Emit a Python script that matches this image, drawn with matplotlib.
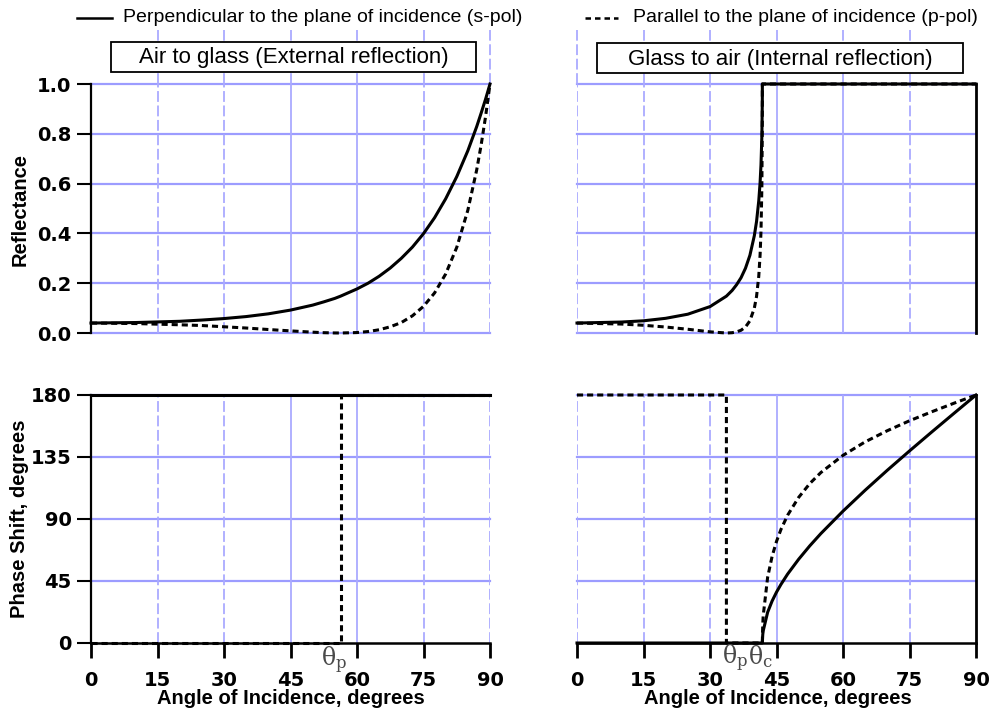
import matplotlib
matplotlib.use("Agg")
import matplotlib.pyplot as plt
from matplotlib.lines import Line2D
from matplotlib.patches import Rectangle

# ---------------- data ----------------
ext_angle = [0, 10, 20, 25, 30, 35, 40, 45, 50, 52.5, 55, 56.3, 60, 62.5, 65, 67.5, 70,
             72.5, 75, 77.5, 80, 82.5, 85, 87, 88, 89, 90]
ext_Rs = [0.040, 0.042, 0.047, 0.052, 0.058, 0.066, 0.077, 0.092, 0.112, 0.125, 0.139,
          0.148, 0.177, 0.200, 0.228, 0.261, 0.300, 0.345, 0.399, 0.463, 0.539, 0.628,
          0.732, 0.829, 0.883, 0.939, 1.0]
ext_Rp = [0.040, 0.038, 0.033, 0.030, 0.025, 0.020, 0.014, 0.0085, 0.0033, 0.0013, 0.0002,
          0.0, 0.0018, 0.0058, 0.013, 0.025, 0.042, 0.069, 0.107, 0.161, 0.237, 0.344,
          0.493, 0.655, 0.755, 0.869, 1.0]

int_angle = [0, 10, 15, 20, 25, 30, 33.7, 35, 36, 37, 38, 39, 40, 40.5, 41, 41.3, 41.5,
             41.7, 41.8, 41.81, 45, 60, 75, 90]
int_Rs = [0.040, 0.044, 0.049, 0.059, 0.0755, 0.106, 0.148, 0.171, 0.194, 0.222, 0.260,
          0.312, 0.391, 0.448, 0.531, 0.604, 0.675, 0.791, 0.930, 1.0, 1.0, 1.0, 1.0, 1.0]
int_Rp = [0.040, 0.036, 0.031, 0.024, 0.015, 0.0046, 0.0, 0.0012, 0.0045, 0.011, 0.024,
          0.049, 0.100, 0.147, 0.228, 0.314, 0.408, 0.588, 0.850, 1.0, 1.0, 1.0, 1.0, 1.0]

ext_phase_s_angle = [0, 90]
ext_phase_s = [180, 180]
ext_phase_p_angle = [0, 56.3, 56.3, 90]
ext_phase_p = [0, 0, 180, 180]

int_phase_s_angle = [0, 41.8, 41.9, 42, 43, 44, 45, 46, 47.5, 50, 52.5, 55, 60, 65, 70,
                     75, 80, 85, 90]
int_phase_s = [0, 0, 6.1, 8.8, 22.3, 30.4, 36.9, 42.5, 50.0, 60.8, 70.5, 79.4, 95.7,
               110.9, 125.4, 139.4, 153.1, 166.6, 180]
int_phase_p_angle = [0, 33.7, 33.7, 41.8, 41.9, 42, 43, 44, 45, 46, 47.5, 50, 52.5, 55,
                     60, 65, 70, 75, 80, 85, 90]
int_phase_p = [180, 180, 0, 0, 13.6, 19.7, 47.7, 62.8, 73.7, 82.4, 92.7, 105.7, 115.7,
               123.7, 136.2, 146.0, 154.1, 161.3, 167.8, 174.0, 180]

x_ticks = [0, 15, 30, 45, 60, 75, 90]
refl_ticks = [0.0, 0.2, 0.4, 0.6, 0.8, 1.0]
refl_ticklabels = ["0.0", "0.2", "0.4", "0.6", "0.8", "1.0"]
phase_ticks = [0, 45, 90, 135, 180]

legend_s = "Perpendicular to the plane of incidence (s-pol)"
legend_p = "Parallel to the plane of incidence (p-pol)"
title_left = "Air to glass (External reflection)"
title_right = "Glass to air (Internal reflection)"
ylabel_top = "Reflectance"
ylabel_bottom = "Phase Shift, degrees"
xlabel = "Angle of Incidence, degrees"
theta_p = r"$\mathrm{\theta}_\mathrm{p}$"
theta_c = r"$\mathrm{\theta}_\mathrm{c}$"

# ---------------- styling ----------------
W, H = 993, 711
fig = plt.figure(figsize=(W / 100, H / 100), dpi=100)

GRID_V = "#aaaaff"
GRID_H = "#9c9cff"
DASH = (0, (2.0, 1.3))
LW = 2.2
TICKFONT = dict(family="DejaVu Sans", weight="bold", size=14)
LABELFONT = dict(family="Liberation Sans", weight="bold", size=14.5)


def fx(px):
    return px / W


def fy(py):
    return 1 - py / H


L, R, AW = fx(91), fx(577), 399 / W
TB, TH = fy(333), 249 / H
BB, BH = fy(643), 248 / H

ax_tl = fig.add_axes([L, TB, AW, TH])
ax_tr = fig.add_axes([R, TB, AW, TH])
ax_bl = fig.add_axes([L, BB, AW, BH])
ax_br = fig.add_axes([R, BB, AW, BH])

for ax in (ax_tl, ax_tr, ax_bl, ax_br):
    ax.set_xlim(0, 90)
    for s in ax.spines.values():
        s.set_visible(False)
    ax.set_xticks(x_ticks)

for ax in (ax_tl, ax_tr):
    ax.set_ylim(0, 1)
    for yv in refl_ticks:
        ax.axhline(yv, color=GRID_H, lw=1.6, zorder=1, clip_on=False)
for ax in (ax_bl, ax_br):
    ax.set_ylim(0, 180)
    for yv in phase_ticks[1:]:
        ax.axhline(yv, color=GRID_H, lw=1.6, zorder=1, clip_on=False)

# vertical grid lines
for ax, xs in ((ax_tl, x_ticks[1:]), (ax_bl, x_ticks[1:]),
               (ax_tr, x_ticks[:-1]), (ax_br, x_ticks[:-1])):
    for xv in xs:
        ls = (0, (6, 2)) if xv in (0, 15, 30, 75, 90) else "-"
        ax.axvline(xv, color=GRID_V, lw=1.3, ls=ls, zorder=1)
# extensions above top panels
for ax, xs in ((ax_tl, x_ticks[1:]), (ax_tr, x_ticks[:-1])):
    for xv in xs:
        ax.axvline(xv, ymin=1.0, ymax=1.217, color=GRID_V, lw=1.3,
                   ls=(0, (6, 2)), zorder=1, clip_on=False)

# data
ax_tl.plot(ext_angle, ext_Rs, color="black", lw=LW, zorder=5, clip_on=False)
ax_tl.plot(ext_angle, ext_Rp, color="black", lw=LW, ls=DASH, zorder=5, clip_on=False)
ax_tr.plot(int_angle, int_Rs, color="black", lw=LW, zorder=5, clip_on=False)
ax_tr.plot(int_angle, int_Rp, color="black", lw=LW, ls=DASH, zorder=5, clip_on=False)
ax_bl.plot(ext_phase_s_angle, ext_phase_s, color="black", lw=LW, zorder=5, clip_on=False)
ax_bl.plot(ext_phase_p_angle, ext_phase_p, color="black", lw=LW, ls=DASH, zorder=5, clip_on=False)
ax_br.plot(int_phase_s_angle, int_phase_s, color="black", lw=LW, zorder=5, clip_on=False)
ax_br.plot(int_phase_p_angle, int_phase_p, color="black", lw=LW, ls=DASH, zorder=5, clip_on=False)

# spines / ticks
for ax in (ax_tl, ax_bl):
    ax.spines["left"].set_visible(True)
    ax.spines["left"].set_linewidth(1.6)
    ax.spines["left"].set_zorder(6)
for ax in (ax_tr, ax_br):
    ax.spines["right"].set_visible(True)
    ax.spines["right"].set_linewidth(2.0)
    ax.spines["right"].set_zorder(6)
for ax in (ax_bl, ax_br):
    ax.spines["bottom"].set_visible(True)
    ax.spines["bottom"].set_linewidth(1.8)
    ax.spines["bottom"].set_zorder(6)

ax_tl.set_yticks(refl_ticks)
ax_tl.set_yticklabels(refl_ticklabels)
ax_bl.set_yticks(phase_ticks)
ax_tr.set_yticks([])
ax_br.set_yticks([])

for ax in (ax_tl, ax_bl):
    ax.tick_params(axis="y", direction="out", length=10, width=1.5, pad=4)
    for t in ax.get_yticklabels():
        t.set(**TICKFONT)
for ax in (ax_tl, ax_tr):
    ax.tick_params(axis="x", bottom=False, labelbottom=False)
for ax in (ax_bl, ax_br):
    ax.tick_params(axis="x", direction="out", length=11, width=2.0, pad=9)
    for t in ax.get_xticklabels():
        t.set(**TICKFONT)

# axis labels
fig.text(fx(20), fy(210), ylabel_top, rotation=90, ha="center", va="center", **LABELFONT)
fig.text(fx(20), fy(519), ylabel_bottom, rotation=90, ha="center", va="center", **LABELFONT)
fig.text(fx(291), fy(698), xlabel, ha="center", va="center", **LABELFONT)
fig.text(fx(778), fy(698), xlabel, ha="center", va="center", **LABELFONT)

# title boxes
for (x0, y0, x1, y1, txt) in ((111, 42, 476, 72, title_left), (597, 43, 963, 73, title_right)):
    fig.add_artist(Rectangle((fx(x0), fy(y1)), fx(x1) - fx(x0), fy(y0) - fy(y1),
                             transform=fig.transFigure, facecolor="white",
                             edgecolor="black", lw=1.3, zorder=10))
    fig.text(fx((x0 + x1) / 2), fy((y0 + y1) / 2 + 1), txt, ha="center", va="center",
             family="Liberation Sans", size=16, zorder=11)

# legend at top
fig.add_artist(Line2D([fx(77), fx(112)], [fy(18), fy(18)], color="black", lw=1.8,
                      transform=fig.transFigure))
fig.text(fx(123), fy(18), legend_s, ha="left", va="center", family="Liberation Sans", size=14)
fig.add_artist(Line2D([fx(585), fx(618)], [fy(18), fy(18)], color="black", lw=1.8,
                      ls=(0, (2.2, 1.6)), transform=fig.transFigure))
fig.text(fx(633), fy(18), legend_p, ha="left", va="center", family="Liberation Sans", size=14)

# theta annotations
GREY = "#4a4a4a"
for (tx, ty, lab) in ((334, 660, theta_p), (735, 658, theta_p), (760, 657, theta_c)):
    fig.text(fx(tx), fy(ty), lab, ha="center", va="center", math_fontfamily="dejavuserif",
             size=17, color=GREY)

fig.savefig("out.png", dpi=100)
